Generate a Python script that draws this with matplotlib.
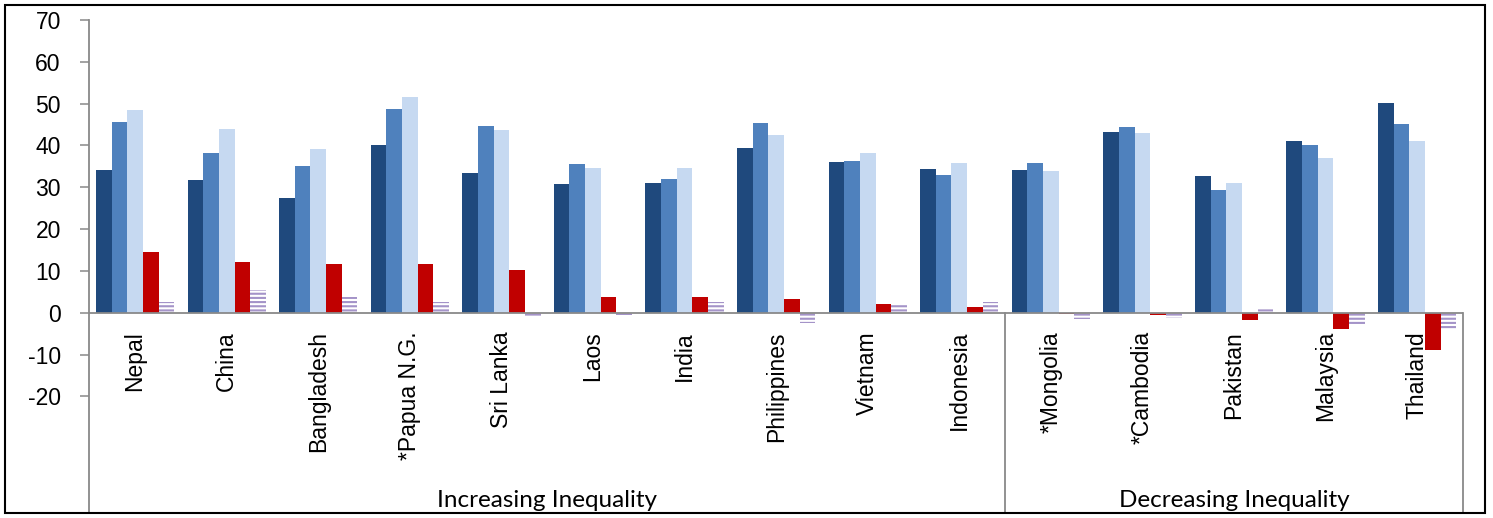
import matplotlib.pyplot as plt
import numpy as np
from matplotlib.patches import Rectangle

countries = ["Nepal", "China", "Bangladesh", "*Papua N.G.", "Sri Lanka", "Laos",
             "India", "Philippines", "Vietnam", "Indonesia",
             "*Mongolia", "*Cambodia", "Pakistan", "Malaysia", "Thailand"]
series_1 = [34.2, 31.8, 27.5, 40.0, 33.5, 30.7, 30.9, 39.3, 36.0, 34.4,
            34.2, 43.2, 32.6, 41.1, 50.2]
series_2 = [45.5, 38.3, 35.2, 48.8, 44.6, 35.5, 31.9, 45.3, 36.2, 33.0,
            35.9, 44.5, 29.4, 40.1, 45.1]
series_3 = [48.5, 44.0, 39.1, 51.7, 43.8, 34.6, 34.6, 42.5, 38.3, 35.9,
            33.8, 42.9, 30.9, 37.1, 41.1]
change_red = [14.5, 12.2, 11.6, 11.6, 10.3, 3.8, 3.7, 3.2, 2.2, 1.4,
              -0.4, -0.5, -1.7, -3.8, -8.8]
change_striped = [2.5, 5.5, 3.7, 2.5, -0.8, -0.6, 2.5, -2.5, 1.8, 2.5,
                  -1.5, -1.3, 1.2, -2.9, -3.8]
groups = ["Increasing Inequality", "Decreasing Inequality"]
group_sizes = [10, 5]
yticks = list(range(-20, 71, 10))

plt.rcParams["axes.unicode_minus"] = False
plt.rcParams["hatch.linewidth"] = 1.5

W, H = 1493, 518
fig = plt.figure(figsize=(W / 100, H / 100), dpi=100)
ax = fig.add_axes([89.3 / W, 5 / H, (1463 - 89.3) / W, (513 - 20) / H])

x = np.arange(len(countries))
bw = 0.171
colors = ["#1f497d", "#4f81bd", "#c6d9f1", "#c00000"]
for i, (vals, c) in enumerate(zip([series_1, series_2, series_3, change_red], colors)):
    ax.bar(x + (i - 2) * bw, vals, bw, color=c, linewidth=0, zorder=2)

ax.bar(x + 2 * bw, change_striped, bw, facecolor="white", edgecolor="#a493c8",
       hatch="----", linewidth=0, zorder=2)

gray = "#898989"
ax.set_xlim(-0.5, len(countries) - 0.5)
ax.set_ylim(-47.9, 70)
ax.set_yticks(yticks)
ax.set_xticks([])
for s in ["top", "right", "bottom"]:
    ax.spines[s].set_visible(False)
ax.spines["left"].set_color(gray)
ax.spines["left"].set_linewidth(1.3)
ax.tick_params(axis="y", length=6.5, width=1.1, color=gray, pad=14,
               labelsize=16.5)
for lab in ax.get_yticklabels():
    lab.set_fontfamily("Liberation Sans")
ax.axhline(0, color=gray, linewidth=1.3, zorder=3)

# category labels
for xi, name in zip(x, countries):
    ax.text(xi, -4.4, name, rotation=90, ha="center", va="top",
            fontsize=16.5, family="Liberation Sans")

# group separators and labels
start = 0
for g, n in zip(groups, group_sizes):
    end = start + n
    ax.plot([end - 0.5, end - 0.5], [0, -47.9], color=gray, linewidth=1.3,
            clip_on=False, zorder=3)
    ax.text((start + end - 1) / 2, -44.8, g, ha="center", va="center",
            fontsize=17.5, family="Lato")
    start = end

fig.patches.append(Rectangle((5 / W, 5 / H), 1480 / W, 508 / H, fill=False,
                             edgecolor="black", linewidth=1.5,
                             transform=fig.transFigure))

fig.savefig("out.png", dpi=100)
